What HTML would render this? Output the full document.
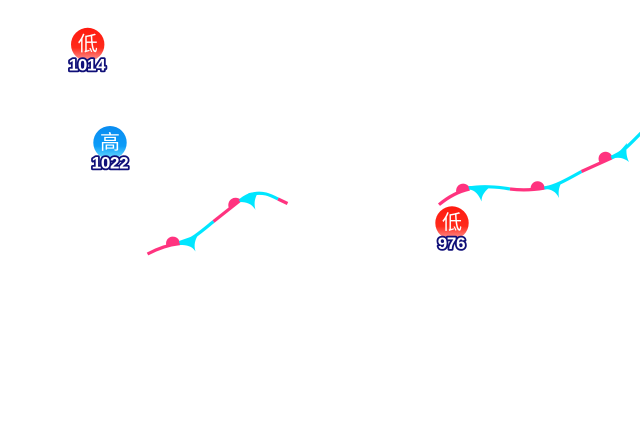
<!DOCTYPE html>
<html><head><meta charset="utf-8"><style>
html,body{margin:0;padding:0;background:#fff;width:640px;height:440px;overflow:hidden}
svg{display:block}
.c{font-family:"Liberation Sans","Noto Sans CJK SC",sans-serif;font-size:20px;fill:#fff;text-anchor:middle}
.n{font-family:"Liberation Sans",sans-serif;font-size:17px;letter-spacing:-.3px;font-weight:bold;fill:#fff;stroke:#0f0f78;stroke-width:3.6px;paint-order:stroke;stroke-linejoin:round;text-anchor:middle}
.p{fill:none;stroke:#ff337f;stroke-width:3.2}
.q{fill:none;stroke:#00e6ff;stroke-width:3.2}
</style></head><body>
<svg width="640" height="440" viewBox="0 0 640 440" xmlns="http://www.w3.org/2000/svg">
<defs>
<linearGradient id="r" x1="0" y1="0" x2="0" y2="1"><stop offset="0" stop-color="#ff1a10"/><stop offset=".6" stop-color="#ff2a1a"/><stop offset="1" stop-color="#ff9a9a"/></linearGradient>
<linearGradient id="b" x1="0" y1="0" x2="0" y2="1"><stop offset="0" stop-color="#0a8cf0"/><stop offset=".6" stop-color="#0c9cf8"/><stop offset="1" stop-color="#70e0ff"/></linearGradient>
</defs>

<path class="p" d="M147.5 254 C156 249.5 166 245 180 243.5"/>
<path class="q" d="M180 243.5 C192 240 203 230 213.5 221.5"/>
<path class="p" d="M213.5 221.5 L240 200.5"/>
<path class="q" d="M240 200.5 C248 194 257 192 266 194 C270 195 274 197 278 199"/>
<path class="p" d="M278 199 L287.5 203.5"/>
<path fill="#ff337f" d="M166.5 246 A6.9 6.9 0 1 1 179.8 244 Z"/>
<path fill="#ff337f" d="M229.5 209 A7 7 0 1 1 241.5 201 Z"/>
<path fill="#00e6ff" d="M179 241 L180 245 C187 245 192 246 195.5 251.5 C193.5 245 195 239 199 234 Z"/>
<path fill="#00e6ff" d="M239 200 L240 202 C247 202 252 204 255.5 210 C253.5 203 255 197 258.5 192 L249 193 Z"/>

<path class="p" d="M439 204.7 C447 198 458 191.5 469.5 189"/>
<path class="q" d="M469.5 188 C480 186 497 186.5 510 189"/>
<path class="p" d="M510 189 C522 190.5 533 190 544.5 188"/>
<path class="q" d="M544.5 188 C556 186 568 179 581.5 171.5"/>
<path class="p" d="M581.5 171.5 L611.5 158"/>
<path class="q" d="M611.5 158 C622 153 632 142 641 133"/>
<path fill="#ff337f" d="M456.5 193 A7 7 0 1 1 470 189.5 Z"/>
<path fill="#ff337f" d="M531 190.5 A7 7 0 1 1 544.5 189.5 Z"/>
<path fill="#ff337f" d="M600 163 A7 7 0 1 1 612.5 158 Z"/>
<path fill="#00e6ff" d="M468.5 186 L469 189.5 C475 190 479 195 481.5 201.5 C481.5 195 485 191 491 186 Z"/>
<path fill="#00e6ff" d="M544 186.5 L544.5 189 C551 189 556 191.5 559 198 C558 191 559 186 563 180 L553 185 Z"/>
<path fill="#00e6ff" d="M610.5 156 L612 159 C618 156.5 624 158 629 162 C626 156 626 150 627 143 L620 151 Z"/>

<circle cx="87.7" cy="44.5" r="16.7" fill="url(#r)"/>
<text class="c" x="87.7" y="50.5">低</text>
<text class="n" x="87" y="70.5">1014</text>

<circle cx="110" cy="142.7" r="16.7" fill="url(#b)"/>
<text class="c" x="110" y="149">高</text>
<text class="n" x="110" y="168.5">1022</text>

<circle cx="452" cy="223" r="16.7" fill="url(#r)"/>
<text class="c" x="452" y="229">低</text>
<text class="n" x="451.5" y="249">976</text>
</svg>
</body></html>
